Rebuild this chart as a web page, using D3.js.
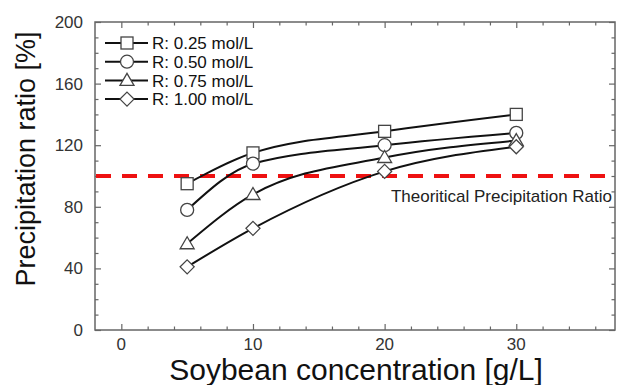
<!DOCTYPE html>
<html>
<head>
<meta charset="utf-8">
<script src="https://cdn.jsdelivr.net/npm/d3@7"></script>
<style>
  body { margin: 0; background: #fff; }
  text { font-family: "Liberation Sans", Arial, sans-serif; }
</style>
</head>
<body>
<svg id="chart" width="620" height="385"></svg>
<script>
var width = 620;
var height = 385;

// data
var concentrations = [5, 10, 20, 30];
var seriesNames = ["R: 0.25 mol/L", "R: 0.50 mol/L", "R: 0.75 mol/L", "R: 1.00 mol/L"];
var series025 = [95, 115, 129, 140];
var series050 = [78, 108, 120, 128];
var series075 = [56, 88, 112, 123];
var series100 = [41, 66, 103, 119];
var markerTypes = ["square", "circle", "triangle", "diamond"];
var theoretical = 100;
var xTicks = [0, 10, 20, 30];
var yTicks = [0, 40, 80, 120, 160, 200];

var allSeries = [series025, series050, series075, series100];

var margin = { top: 22, right: 5, bottom: 55, left: 95 };
var svg = d3.select("#chart");

var x = d3.scaleLinear().domain([-2, 37.5]).range([margin.left, width - margin.right]);
var y = d3.scaleLinear().domain([0, 200]).range([height - margin.bottom, margin.top]);

var axisColor = "#666";

// frame
svg.append("rect")
  .attr("x", x.range()[0])
  .attr("y", y.range()[1])
  .attr("width", x.range()[1] - x.range()[0])
  .attr("height", y.range()[0] - y.range()[1])
  .attr("fill", "none")
  .attr("stroke", axisColor)
  .attr("stroke-width", 1.5);

// inward ticks on all four sides
var xMinor = d3.range(0, 37, 2).filter(v => v % 10 !== 0);
var yMinor = d3.range(10, 200, 10).filter(v => v % 40 !== 0);

function tickAxis(axisFn, scale, ticks, size, pos) {
  var g = svg.append("g")
    .attr("transform", pos)
    .call(axisFn(scale).tickValues(ticks).tickSize(size).tickFormat(""));
  g.select(".domain").remove();
  g.selectAll("line").attr("stroke", axisColor).attr("stroke-width", 1.2);
  return g;
}

var bottomY = y.range()[0], topY = y.range()[1];
var leftX = x.range()[0], rightX = x.range()[1];

tickAxis(d3.axisTop, x, xTicks, 6, `translate(0,${bottomY})`);
tickAxis(d3.axisTop, x, xMinor, 3.5, `translate(0,${bottomY})`);
tickAxis(d3.axisBottom, x, xTicks, 6, `translate(0,${topY})`);
tickAxis(d3.axisBottom, x, xMinor, 3.5, `translate(0,${topY})`);
tickAxis(d3.axisRight, y, yTicks, 6, `translate(${leftX},0)`);
tickAxis(d3.axisRight, y, yMinor, 3.5, `translate(${leftX},0)`);
tickAxis(d3.axisLeft, y, yTicks, 6, `translate(${rightX},0)`);
tickAxis(d3.axisLeft, y, yMinor, 3.5, `translate(${rightX},0)`);

// tick labels
svg.append("g").selectAll("text")
  .data(xTicks).enter().append("text")
  .attr("x", d => x(d))
  .attr("y", bottomY + 20)
  .attr("text-anchor", "middle")
  .attr("fill", "#333")
  .style("font-size", "17px")
  .text(d => d);

svg.append("g").selectAll("text")
  .data(yTicks).enter().append("text")
  .attr("x", leftX - 12)
  .attr("y", d => y(d))
  .attr("dy", "0.35em")
  .attr("text-anchor", "end")
  .attr("fill", "#333")
  .style("font-size", "17px")
  .text(d => d);

// axis titles
svg.append("text")
  .attr("x", (leftX + rightX) / 2 + 1)
  .attr("y", 380)
  .attr("text-anchor", "middle")
  .attr("fill", "#111")
  .style("font-size", "30px")
  .text("Soybean concentration [g/L]");

svg.append("text")
  .attr("transform", `translate(35,159) rotate(-90)`)
  .attr("text-anchor", "middle")
  .attr("fill", "#111")
  .style("font-size", "27px")
  .text("Precipitation ratio [%]");

// theoretical line
svg.append("line")
  .attr("x1", leftX + 1)
  .attr("x2", rightX - 1)
  .attr("y1", y(theoretical))
  .attr("y2", y(theoretical))
  .attr("stroke", "#ee1111")
  .attr("stroke-width", 4)
  .attr("stroke-dasharray", "15,11");

svg.append("text")
  .attr("x", rightX - 3)
  .attr("y", y(theoretical) + 26)
  .attr("text-anchor", "end")
  .attr("fill", "#222")
  .style("font-size", "17px")
  .text("Theoritical Precipitation Ratio");

// markers
function drawMarker(g, type, cx, cy) {
  var stroke = "#444";
  if (type === "square") {
    g.append("rect").attr("x", cx - 6).attr("y", cy - 6).attr("width", 12).attr("height", 12)
      .attr("fill", "#fff").attr("stroke", stroke).attr("stroke-width", 1.3);
  } else if (type === "circle") {
    g.append("circle").attr("cx", cx).attr("cy", cy).attr("r", 6.5)
      .attr("fill", "#fff").attr("stroke", stroke).attr("stroke-width", 1.3);
  } else if (type === "triangle") {
    g.append("path").attr("d", `M${cx},${cy - 7}L${cx + 7},${cy + 5}L${cx - 7},${cy + 5}Z`)
      .attr("fill", "#fff").attr("stroke", stroke).attr("stroke-width", 1.3);
  } else {
    g.append("path").attr("d", `M${cx},${cy - 7}L${cx + 7},${cy}L${cx},${cy + 7}L${cx - 7},${cy}Z`)
      .attr("fill", "#fff").attr("stroke", stroke).attr("stroke-width", 1.3);
  }
}

var line = d3.line()
  .x((d, i) => x(concentrations[i]))
  .y(d => y(d))
  .curve(d3.curveMonotoneX);

var seriesG = svg.append("g");
allSeries.forEach((vals, si) => {
  seriesG.append("path")
    .datum(vals)
    .attr("fill", "none")
    .attr("stroke", "#111")
    .attr("stroke-width", 2)
    .attr("d", line);
});
allSeries.forEach((vals, si) => {
  vals.forEach((v, i) => drawMarker(seriesG, markerTypes[si], x(concentrations[i]), y(v)));
});

// legend
var legend = svg.append("g");
seriesNames.forEach((name, i) => {
  var ly = 43 + i * 18.7;
  legend.append("line")
    .attr("x1", 105).attr("x2", 148)
    .attr("y1", ly).attr("y2", ly)
    .attr("stroke", "#111").attr("stroke-width", 2);
  drawMarker(legend, markerTypes[i], 127, ly);
  legend.append("text")
    .attr("x", 152)
    .attr("y", ly)
    .attr("dy", "0.36em")
    .attr("fill", "#111")
    .style("font-size", "17px")
    .text(name);
});
</script>
</body>
</html>
